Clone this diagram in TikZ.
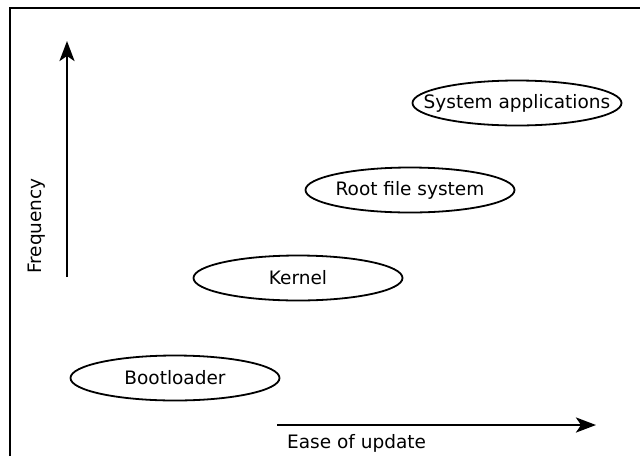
\documentclass[tikz,border=0pt]{standalone}
\usepackage{fontspec}
\setmainfont{DejaVu Sans}
\usetikzlibrary{shapes.geometric,arrows.meta}
\begin{document}
\begin{tikzpicture}[x=1pt,y=-1pt,
  oval/.style={draw, line width=1.8pt, ellipse, minimum width=209pt, minimum height=45pt, inner sep=0pt,
    label={[lbl]center:#1}},
  axis/.style={line width=2.8pt, -{Stealth[length=20pt,width=15pt,inset=5pt]}},
  lbl/.style={font=\fontsize{18.5}{22}\selectfont, inner sep=0pt}]
\useasboundingbox (0,0) rectangle (640,456);
\draw[line width=2.8pt] (10,456) -- (10,8) -- (640,8);
\node[oval=System applications] (apps) at (517,103) {};
\node[oval=Root file system] (rootfs) at (410,190) {};
\node[oval=Kernel] (kernel) at (298,278) {};
\node[oval=Bootloader] (boot) at (175,378) {};
\coordinate (ys) at (67,277);
\coordinate (ye) at (67,41);
\coordinate (xs) at (277,425);
\coordinate (xe) at (596,425);
\draw[axis] (ys) -- (ye);
\draw[axis] (xs) -- (xe);
\node[lbl, rotate=90] (freq) at (37,226) {Frequency};
\node[lbl, anchor=west] (ease) at (287,443) {Ease of update};
\end{tikzpicture}
\end{document}
